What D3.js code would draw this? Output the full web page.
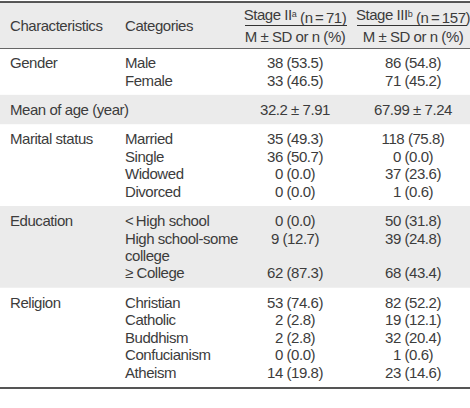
<!DOCTYPE html>
<html><head><meta charset="utf-8">
<script src="https://cdn.jsdelivr.net/npm/d3@7"></script>
<style>
html,body{margin:0;padding:0;background:#fff;}
svg{display:block;}
text{font-family:"Liberation Sans",Arial,sans-serif;font-size:15px;letter-spacing:-0.45px;fill:#3c3c3c;}
</style></head>
<body><svg id="t" width="470" height="408"></svg>
<script>
// ---- data ----
const headerCols = ["Characteristics", "Categories"];
const stageLabels = [{name:"Stage II", sup:"a", n:"71"}, {name:"Stage III", sup:"b", n:"157"}];
const subHeader = "M \u00B1 SD or n (%)";
const characteristics = ["Gender", "Mean of age (year)", "Marital status", "Education", "Religion"];
const categories = [
  [["Male"], ["Female"]],
  [[""]],
  [["Married"], ["Single"], ["Widowed"], ["Divorced"]],
  [["<\u2009High school"], ["High school-some", "college"], ["\u2265 College"]],
  [["Christian"], ["Catholic"], ["Buddhism"], ["Confucianism"], ["Atheism"]]
];
const stageII = [
  ["38 (53.5)", "33 (46.5)"],
  ["32.2 \u00B1 7.91"],
  ["35 (49.3)", "36 (50.7)", "0 (0.0)", "0 (0.0)"],
  ["0 (0.0)", "9 (12.7)", "62 (87.3)"],
  ["53 (74.6)", "2 (2.8)", "2 (2.8)", "0 (0.0)", "14 (19.8)"]
];
const stageIII = [
  ["86 (54.8)", "71 (45.2)"],
  ["67.99 \u00B1 7.24"],
  ["118 (75.8)", "0 (0.0)", "37 (23.6)", "1 (0.6)"],
  ["50 (31.8)", "39 (24.8)", "68 (43.4)"],
  ["82 (52.2)", "19 (12.1)", "32 (20.4)", "1 (0.6)", "23 (14.6)"]
];
const shaded = [false, true, false, true, false];

// ---- layout ----
const svg = d3.select("#t");
const W = 470;
const tableTop = 2, headBottom = 48, tableBottom = 387;
const pad = 0.68; // section padding in line units
const lineCounts = categories.map(sec => d3.sum(sec, c => c.length));
const sectionUnits = lineCounts.map(n => n + pad);
const totalUnits = d3.sum(sectionUnits);
const y = d3.scaleLinear().domain([0, totalUnits]).range([headBottom, tableBottom]);
const x = d3.scalePoint().domain(["char", "cat"]).range([10, 125]);
const xv = d3.scalePoint().domain(["II", "III"]).range([295, 413]);

// header background
svg.append("rect").attr("x", 0).attr("y", tableTop).attr("width", W).attr("height", headBottom - tableTop).attr("fill", "#ebebeb");

// sections
let acc = 0;
characteristics.forEach((ch, i) => {
  const u0 = acc, u1 = acc + sectionUnits[i];
  acc = u1;
  if (shaded[i]) {
    svg.append("rect").attr("x", 0).attr("y", y(u0)).attr("width", W).attr("height", y(u1) - y(u0)).attr("fill", "#ebebeb");
  }
  const g = svg.append("g");
  let line = u0 + pad / 2 + 0.5;
  g.append("text").attr("x", x("char")).attr("y", y(line)).attr("dy", "0.36em").text(ch);
  categories[i].forEach((cat, j) => {
    cat.forEach((ln, k) => {
      if (ln) g.append("text").attr("x", x("cat")).attr("y", y(line + k)).attr("dy", "0.36em").text(ln);
    });
    g.append("text").attr("x", xv("II")).attr("y", y(line)).attr("dy", "0.36em").attr("text-anchor", "middle").text(stageII[i][j]);
    g.append("text").attr("x", xv("III")).attr("y", y(line)).attr("dy", "0.36em").attr("text-anchor", "middle").text(stageIII[i][j]);
    line += cat.length;
  });
});

// header texts
svg.append("text").attr("x", x("char")).attr("y", 26).attr("dy", "0.36em").text(headerCols[0]);
svg.append("text").attr("x", x("cat")).attr("y", 26).attr("dy", "0.36em").text(headerCols[1]);
const ul = [[245, 347], [357, 467]];
stageLabels.forEach((s, i) => {
  const cx = xv(i === 0 ? "II" : "III");
  const t = svg.append("text").attr("x", cx).attr("y", 15).attr("dy", "0.36em").attr("text-anchor", "middle");
  t.append("tspan").text(s.name);
  t.append("tspan").attr("dy", "-0.4em").style("font-size", "9px").text(s.sup);
  t.append("tspan").attr("dy", "0.4em").text(" (n\u2009=\u2009" + s.n + ")");
  svg.append("line").attr("x1", ul[i][0]).attr("x2", ul[i][1]).attr("y1", 25.5).attr("y2", 25.5).attr("stroke", "#333").attr("stroke-width", 1);
  svg.append("text").attr("x", cx).attr("y", 37).attr("dy", "0.36em").attr("text-anchor", "middle").text(subHeader);
});

// rules
svg.append("line").attr("x1", 0).attr("x2", W).attr("y1", tableTop).attr("y2", tableTop).attr("stroke", "#222").attr("stroke-width", 1.5);
svg.append("line").attr("x1", 0).attr("x2", W).attr("y1", headBottom + 0.5).attr("y2", headBottom + 0.5).attr("stroke", "#666").attr("stroke-width", 1);
svg.append("line").attr("x1", 0).attr("x2", W).attr("y1", tableBottom + 1).attr("y2", tableBottom + 1).attr("stroke", "#555").attr("stroke-width", 2);
</script></body></html>
